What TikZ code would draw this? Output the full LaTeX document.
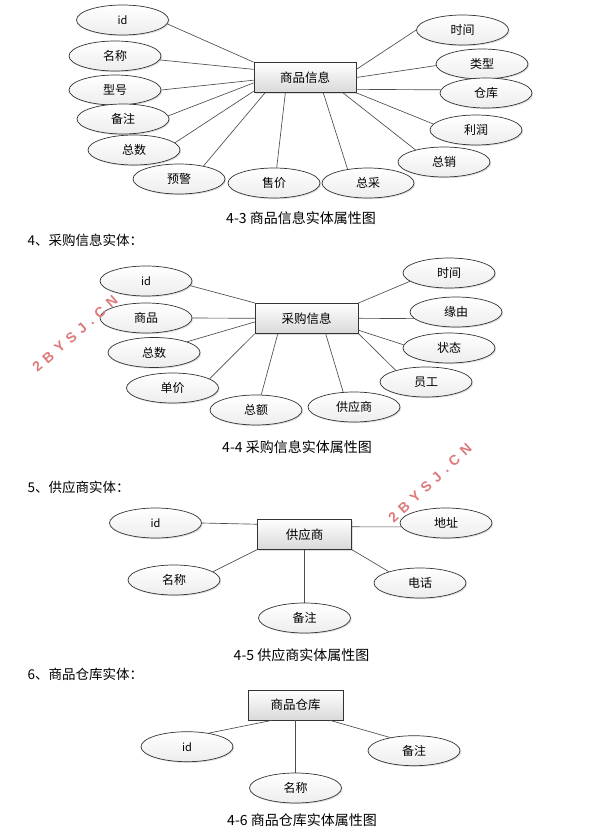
\documentclass[tikz,border=0pt]{standalone}
\usepackage{fontspec}
\setmainfont{Noto Sans CJK SC}
\newfontfamily\wmfont[LetterSpace=40]{Liberation Sans}
\usetikzlibrary{shapes.geometric,shadows}
\definecolor{wmred}{RGB}{222,122,122}
\tikzset{
attr/.style={
	  draw=black!80, line width=0.7pt, ellipse, inner sep=0pt,
	    minimum width=92pt, minimum height=30pt, top color=white,
    bottom color=black!7, font=\fontsize{12}{12}\selectfont,
    drop shadow={opacity=0.25, shadow xshift=1.2pt, shadow yshift=-1.2pt}},
entity/.style={
	  draw=black!80, line width=0.7pt, rectangle, inner sep=0pt,
	    minimum width=102pt, minimum height=30pt, top color=white,
    bottom color=black!15, font=\fontsize{12.5}{12.5}\selectfont,
    drop shadow={opacity=0.25, shadow xshift=1.2pt, shadow yshift=-1.2pt}},
link/.style={draw=black!70, line width=0.65pt},
caption/.style={font=\fontsize{14}{14}\selectfont},
heading/.style={anchor=west, font=\fontsize{13.5}{13.5}\selectfont},
wmark/.style={text=wmred, font=\wmfont\bfseries\fontsize{14}{14}\selectfont}
}

\begin{document}
\begin{tikzpicture}[x=1pt, y=-1pt]
	\useasboundingbox[fill=white] (0,0) rectangle (590,834);
	% 4-3 goods
	\node[entity] (g) at (305,77.5) {商品信息};
	\node[attr, font=\fontsize{11}{11}\selectfont] (g-id) at (122.5,20) {id};
	\node[attr] (g-name) at (115,56) {名称};
	\node[attr] (g-model) at (115,90) {型号};
	\node[attr] (g-note) at (123,119) {备注};
	\node[attr] (g-total) at (134,150) {总数};
	\node[attr] (g-warn) at (179,179) {预警};
	\node[attr] (g-price) at (274,183) {售价};
	\node[attr] (g-buy) at (368,183) {总采};
	\node[attr] (g-time) at (462.5,30) {时间};
	\node[attr] (g-type) at (482,64) {类型};
	\node[attr] (g-store) at (486,93) {仓库};
	\node[attr] (g-profit) at (476,130) {利润};
	\node[attr] (g-sale) at (444,162) {总销};
	\draw[link] (g-id.355) -- (g.north west);
	\draw[link] (g-name.355) -- (g.171);
	\draw[link] (g-model.east) -- (g.183);
	\draw[link] (g-note.4) -- (g.186);
	\draw[link] (g-total.10) -- (g.195);
	\draw[link] (g-warn.28) -- (g.201);
	\draw[link] (g-price.80) -- (g.218);
	\draw[link] (g-buy.146) -- (g.320);
	\draw[link] (g-time.west) -- (g.9);
	\draw[link] (g-type.182) -- (g.east);
	\draw[link] (g-store.176) -- (g.347);
	\draw[link] (g-profit.172) -- (g.south east);
	\draw[link] (g-sale.157) -- (g.338);
	\node[caption] (cap3) at (301,218) {4-3 商品信息实体属性图};

	% 4-4 purchase
	\node[heading] (h4) at (24,240) {4、采购信息实体：};
	\node[entity, minimum width=103pt] (p) at (306.7,318.3) {采购信息};
	\node[attr, font=\fontsize{11}{11}\selectfont] (p-id) at (146,281) {id};
	\node[attr] (p-goods) at (146,318) {商品};
	\node[attr] (p-total) at (154,352.5) {总数};
	\node[attr] (p-unit) at (172.5,388) {单价};
	\node[attr] (p-sum) at (256,410) {总额};
	\node[attr] (p-supp) at (354,407) {供应商};
	\node[attr] (p-time) at (449,273) {时间};
	\node[attr] (p-reason) at (456,312) {缘由};
	\node[attr] (p-state) at (449,348) {状态};
	\node[attr] (p-staff) at (426,382) {员工};
	\draw[link] (p-id.354) -- (p.north west);
	\draw[link] (p-goods.east) -- (p.west);
	\draw[link] (p-total.18) -- (p.184);
	\draw[link] (p-unit.14) -- (p.south west);
	\draw[link] (p-sum.71) -- (p.208);
	\draw[link] (p-supp.126) -- (p.321);
	\draw[link] (p-time.192) -- (p.north east);
	\draw[link] (p-reason.189) -- (p.east);
	\draw[link] (p-state.176) -- (p.347);
	\draw[link] (p-staff.159) -- (p.south east);
	\node[caption] (cap4) at (297,447) {4-4 采购信息实体属性图};

	% 4-5 supplier
	\node[heading] (h5) at (24,487) {5、供应商实体：};
	\node[entity, minimum width=94pt] (s) at (304.5,534.3) {供应商};
	\node[attr, font=\fontsize{11}{11}\selectfont] (s-id) at (155.5,523) {id};
	\node[attr] (s-name) at (174,580) {名称};
	\node[attr] (s-note) at (304.5,618) {备注};
	\node[attr] (s-tel) at (420,583) {电话};
	\node[attr] (s-addr) at (446,523) {地址};
	\draw[link] (s-id.east) -- (s.168);
	\draw[link] (s-name.12) -- (s.south west);
	\draw[link] (s-note.north) -- (s.south);
	\draw[link] (s-tel.160) -- (s.south east);
	\draw[link] (s-addr.185) -- (s.9);
	\node[caption] (cap5) at (301.5,655) {4-5 供应商实体属性图};

	% 4-6 warehouse
	\node[heading] (h6) at (24,674) {6、商品仓库实体：};
	\node[entity, minimum width=95pt] (w) at (295.5,705) {商品仓库};
	\node[attr, font=\fontsize{11}{11}\selectfont] (w-id) at (187,746.7) {id};
	\node[attr] (w-name) at (295.5,788) {名称};
	\node[attr] (w-note) at (414,750.7) {备注};
	\draw[link] (w-id.32) -- (w.213);
	\draw[link] (w-name.north) -- (w.south);
	\draw[link] (w-note.151) -- (w.336);
	\node[caption] (cap6) at (302,820) {4-6 商品仓库实体属性图};

	% watermarks
	\node[wmark, rotate=41] (wm1) at (75,334) {2BYSJ.CN};
	\node[wmark, rotate=43] (wm2) at (430,483) {2BYSJ.CN};
\end{tikzpicture}
\end{document}
